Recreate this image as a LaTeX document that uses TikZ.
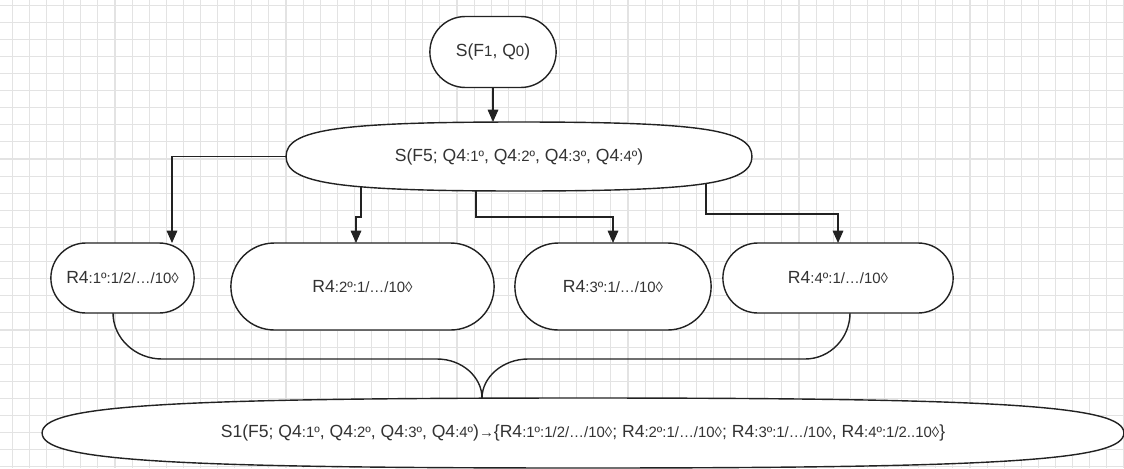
\documentclass[tikz,border=0pt]{standalone}
\usepackage{fontspec}
\setmainfont{Liberation Sans}
\usetikzlibrary{arrows.meta,calc,shapes.misc}
\definecolor{inkline}{HTML}{222222}
\definecolor{inktext}{HTML}{333333}
\definecolor{gridgray}{HTML}{E3E3E3}
\newcommand{\sm}[1]{{\fontsize{8.5}{10}\selectfont #1}}
% flattened oval drawn round a node
\newcommand{\ovaloutline}[1]{%
  \path[ovalline] (#1.west)
    .. controls ($(#1.west)!0.78!(#1.north west)$) and ($(#1.north)!0.78!(#1.north west)$) .. (#1.north)
    .. controls ($(#1.north)!0.78!(#1.north east)$) and ($(#1.east)!0.78!(#1.north east)$) .. (#1.east)
    .. controls ($(#1.east)!0.78!(#1.south east)$) and ($(#1.south)!0.78!(#1.south east)$) .. (#1.south)
    .. controls ($(#1.south)!0.78!(#1.south west)$) and ($(#1.west)!0.78!(#1.south west)$) .. (#1.west) -- cycle;}
\pgfdeclarelayer{grid}
\pgfdeclarelayer{wires}
\pgfdeclarelayer{shapes}
\pgfsetlayers{grid,wires,shapes,main}
\tikzset{
  box/.style={rounded rectangle, draw=inkline, fill=white, line width=0.8pt, outer sep=0pt,
    text=inktext, font=\fontsize{10}{12}\selectfont},
  oval/.style={rectangle, inner sep=0pt, outer sep=0pt, text=inktext, font=\fontsize{10}{12}\selectfont},
  ovalline/.style={draw=inkline, fill=white, line width=0.8pt},
  wire/.style={draw=inkline, line width=0.8pt, -{Triangle[length=7pt,width=6pt]}},
  joinline/.style={draw=inkline, line width=0.8pt},
  gridline/.style={draw=gridgray, line width=0.6pt}
}

\begin{document}
\begin{tikzpicture}[x=0.02cm, y=0.02cm]
  \useasboundingbox (0,0) rectangle (1124,468);
  \begin{pgfonlayer}{grid}
    \foreach \gx in {0,...,65}
      \draw[gridline] (12.4+17.1*\gx,0) -- (12.4+17.1*\gx,468);
    \foreach \gy in {0,...,27}
      \draw[gridline] (0,462.9-17.1*\gy) -- (1124,462.9-17.1*\gy);
  \end{pgfonlayer}

  \node[box, minimum width=2.76cm, minimum height=1.42cm] (s0) at (493,416) {S(F\sm{1}, Q\sm{0})};
  \node[oval, minimum width=9.32cm, minimum height=1.38cm] (s5) at (519,311.5)
    {S(F5; Q4\sm{:1º}, Q4\sm{:2º}, Q4\sm{:3º}, Q4\sm{:4º})};
  \node[box, minimum width=3.1cm, minimum height=1.4cm] (r1) at (122.5,190) {R4\sm{:1º:1/2/…/10◊}};
  \node[box, minimum width=5.5cm, minimum height=1.74cm] (r2) at (362.5,181.5) {R4\sm{:2º:1/…/10◊}};
  \node[box, minimum width=4.16cm, minimum height=1.74cm] (r3) at (613,181.5) {R4\sm{:3º:1/…/10◊}};
  \node[box, minimum width=4.84cm, minimum height=1.4cm] (r4) at (838,190) {R4\sm{:4º:1/…/10◊}};
  \node[oval, minimum width=21.64cm, minimum height=1.4cm] (s1) at (583,35)
    {S1(F5; Q4\sm{:1º}, Q4\sm{:2º}, Q4\sm{:3º}, Q4\sm{:4º})\sm{→}\{R4\sm{:1º:1/2/…/10◊}; R4\sm{:2º:1/…/10◊}; R4\sm{:3º:1/…/10◊}, R4\sm{:4º:1/2..10◊}\}};
  \coordinate (cusp) at (482,0 |- s1.north);

  \begin{pgfonlayer}{shapes}
    \ovaloutline{s5}
    \ovaloutline{s1}
  \end{pgfonlayer}

  \begin{pgfonlayer}{wires}
    \draw[wire] (s0.south) -- (s0.south |- s5.north);
    \draw[wire] (s5.west) -| ([xshift=0.99cm]r1.north);
    \draw[wire] (361,0 |- s5.center) -- (361,251) -- (356,251) -- (356,0 |- r2.north);
    \draw[wire] (476,0 |- s5.center) |- (r3.north |- 0,251) -- (r3.north);
    \draw[wire] (706,0 |- s5.center) |- (r4.north |- 0,254) -- (r4.north);
    % brace into the result
    \draw[joinline] (113,0 |- r1.south) .. controls (113,130) and (135,109) .. (162,109)
      -- (437,109) .. controls (462,109) and (482,91) .. (cusp);
    \draw[joinline] (cusp) .. controls (482,91) and (503,109) .. (528,109)
      -- (805,109) .. controls (830,109) and (850,130) .. (850,0 |- r4.south);
  \end{pgfonlayer}
\end{tikzpicture}
\end{document}
